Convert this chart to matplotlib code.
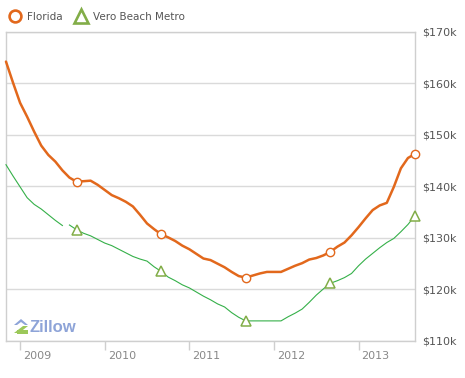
import matplotlib
matplotlib.use('Agg')
import matplotlib.pyplot as plt
from matplotlib.lines import Line2D
from matplotlib.patches import Polygon
from matplotlib.transforms import ScaledTranslation
import numpy as np

# ---- data (monthly, starting Nov 2008), values in $k ----
start_year, start_month = 2008, 11
florida = [164.2, 160.1, 156.2, 153.5, 150.6, 147.9, 146.1, 144.8, 143.1, 141.7,
           140.9, 141.0, 141.1, 140.3, 139.3, 138.3, 137.7, 137.0, 136.1, 134.5,
           132.8, 131.7, 130.7, 130.1, 129.4, 128.5, 127.8, 126.9, 126.0, 125.7,
           125.0, 124.3, 123.4, 122.6, 122.3, 122.7, 123.1, 123.4, 123.4, 123.4,
           124.0, 124.6, 125.1, 125.8, 126.1, 126.6, 127.3, 128.3, 129.1, 130.5,
           132.1, 133.8, 135.4, 136.3, 136.8, 139.9, 143.5, 145.5, 146.3]
vero = [144.2, 142.0, 139.9, 137.8, 136.5, 135.6, 134.5, 133.4, 132.4, 132.5,
        131.6, 130.9, 130.4, 129.7, 129.0, 128.5, 127.8, 127.1, 126.4, 125.9,
        125.5, 124.4, 123.5, 122.4, 121.7, 120.9, 120.3, 119.5, 118.7, 118.0,
        117.2, 116.6, 115.5, 114.6, 113.9, 113.9, 113.9, 113.9, 113.9, 113.9,
        114.7, 115.4, 116.2, 117.5, 118.9, 120.1, 121.2, 121.7, 122.3, 123.1,
        124.6, 125.9, 127.0, 128.1, 129.1, 129.9, 131.2, 132.6, 134.3]
vero_gap_after = 8          # no data drawn between this month and the next
series_names = ['Florida', 'Vero Beach Metro']
year_labels = [2009, 2010, 2011, 2012, 2013]
y_values = [110, 120, 130, 140, 150, 160, 170]
y_labels = ['$%dk' % v for v in y_values]
marker_calendar_month = 9   # markers every September

# ---- styling ----
orange = '#e2681c'
green_line = '#35b049'
green_mark = '#82ad48'
grid_c = '#dadada'
frame_c = '#cfcfcf'

months = np.arange(len(florida))
cal_month = (start_month - 1 + months) % 12 + 1
mark_idx = list(months[cal_month == marker_calendar_month])

fig = plt.figure(figsize=(4.65, 3.78), dpi=100)
ax = fig.add_axes([5.7 / 465, 37 / 378, (415 - 5.7) / 465, (341 - 31.7) / 378])

ax.plot(months, florida, color=orange, lw=1.8, solid_capstyle='round',
        marker='o', markevery=mark_idx, ms=6, mfc='white', mec=orange, mew=1.0,
        clip_on=False, zorder=4)
v = np.array(vero, dtype=float)
seg1 = months <= vero_gap_after
ax.plot(months[seg1], v[seg1], color=green_line, lw=0.8, clip_on=False, zorder=3)
ax.plot(months[~seg1], v[~seg1], color=green_line, lw=0.8, clip_on=False, zorder=3)
ax.plot(months[mark_idx], v[mark_idx], ls='none', marker='^', ms=6.5,
        mfc='white', mec=green_mark, mew=1.1, clip_on=False, zorder=5)

ax.set_xlim(-0.04, len(florida) - 1)
ax.set_ylim(min(y_values), max(y_values))

# y axis on the right
ax.yaxis.tick_right()
ax.set_yticks(y_values)
ax.set_yticklabels(y_labels)
ax.tick_params(axis='y', length=0, pad=5, labelsize=8, labelcolor='#555555')
ax.grid(axis='y', color=grid_c, lw=1.0)
ax.set_axisbelow(True)

# x ticks at January of each year, labels to the right of the tick
xt = [(y - start_year) * 12 + (1 - start_month) for y in year_labels]
ax.set_xticks(xt)
ax.set_xticklabels([str(y) for y in year_labels])
ax.tick_params(axis='x', length=6.5, width=1, color=frame_c, pad=0.5,
               labelsize=8, labelcolor='#888888')
offset = ScaledTranslation(3 / 100, 0, fig.dpi_scale_trans)
for lab in ax.get_xticklabels():
    lab.set_horizontalalignment('left')
    lab.set_transform(lab.get_transform() + offset)

for s in ax.spines.values():
    s.set_color(frame_c)
    s.set_linewidth(1.0)

# ---- legend ----
fig.add_artist(Line2D([15 / 465], [1 - 16 / 378], transform=fig.transFigure,
                      marker='o', ms=8.5, mfc='white', mec=orange, mew=1.9, ls='none'))
fig.text(27 / 465, 1 - 16.5 / 378, series_names[0], fontsize=7.5, color='#555555',
         va='center', ha='left')
fig.add_artist(Line2D([81 / 465], [1 - 16 / 378], transform=fig.transFigure,
                      marker='^', ms=9.5, mfc='white', mec=green_mark, mew=1.9, ls='none'))
fig.text(93 / 465, 1 - 16.5 / 378, series_names[1], fontsize=7.5, color='#555555',
         va='center', ha='left')

# ---- Zillow watermark ----
fig.text(29 / 465, 1 - 328 / 378, 'Zillow', fontsize=12, fontweight='bold',
         family='Liberation Sans', color='#8ea4d8', va='center', ha='left')
def px(xp, yp):
    return (xp / 465, 1 - yp / 378)
roof = Polygon([px(14, 325), px(21, 319), px(28, 325), px(25, 325), px(21, 322),
                px(17, 325)], closed=True, transform=fig.transFigure,
               color='#8ea4d8', lw=0)
zbar = Polygon([px(14, 333), px(23, 326), px(28, 326), px(19, 333)], closed=True,
               transform=fig.transFigure, color='#9cc85a', lw=0)
bbar = Polygon([px(17, 330), px(28, 330), px(28, 334), px(17, 334)], closed=True,
               transform=fig.transFigure, color='#9cc85a', lw=0)
fig.add_artist(roof)
fig.add_artist(zbar)
fig.add_artist(bbar)

fig.savefig('out.png', dpi=100)
